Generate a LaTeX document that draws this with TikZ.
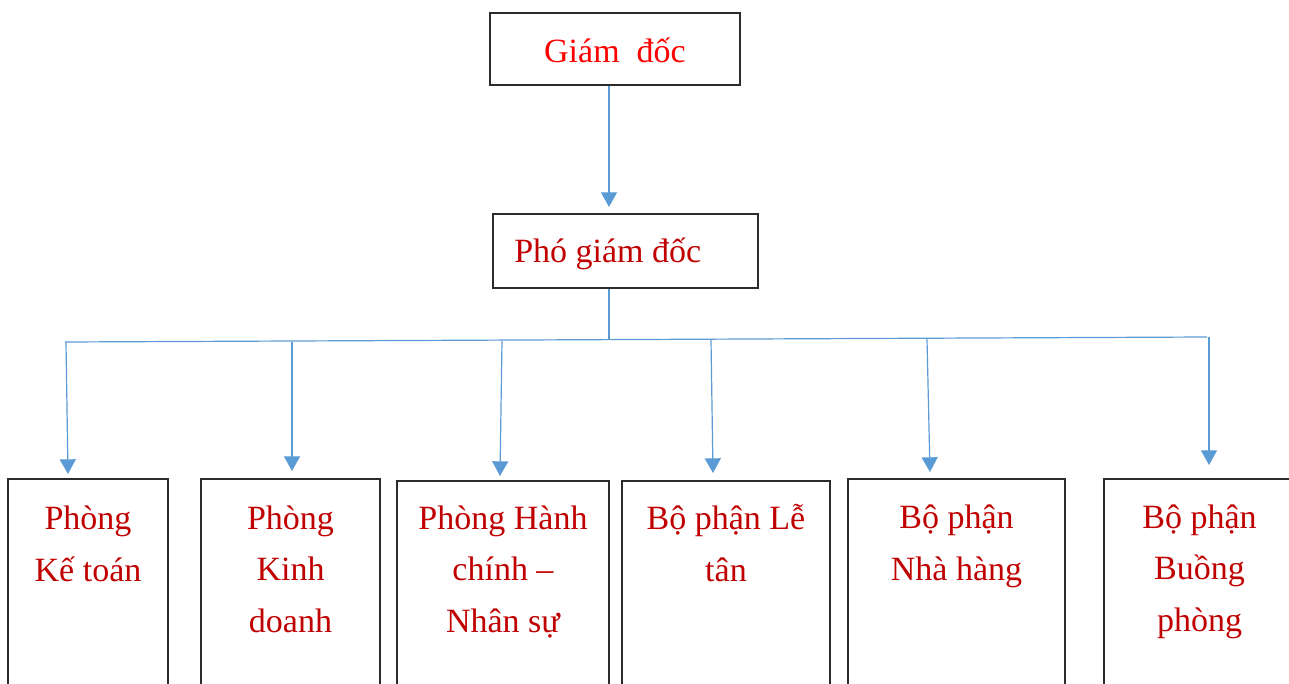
\documentclass[tikz,border=0pt]{standalone}
\usepackage{fontspec}
\setmainfont{Liberation Serif}
\usetikzlibrary{arrows.meta,fit}
\definecolor{linkblue}{HTML}{5B9BD5}
\definecolor{darkred}{HTML}{C00000}
\definecolor{brightred}{HTML}{FF0000}
\definecolor{boxline}{HTML}{2B2B2B}
\begin{document}
\begin{tikzpicture}[x=0.75pt,y=-0.75pt,
  box/.style={draw=boxline,line width=1pt,inner sep=0pt},
  label/.style={font=\fontsize{25.5pt}{38.5pt}\selectfont,text=darkred,align=center,anchor=base,inner sep=0pt},
  link/.style={draw=linkblue,line width=0.9pt},
  arrowlink/.style={link,-{Triangle[length=11pt,width=12pt]}}]
\useasboundingbox (0,0) rectangle (1289,684);

% top of the chart
\node[box,fit={(490,13) (740,85)}] (gd) {};
\node[label,text=brightred] (gdtext) at (615,63) {Giám~~đốc};
\node[box,fit={(493,214) (758,288)}] (pgd) {};
\node[label,anchor=base west] (pgdtext) at (514,263) {Phó giám đốc};

% departments (boxes run past the lower edge)
\node[box,fit={(8,479) (168,720)}] (b1) {};
\node[box,fit={(201,479) (380,720)}] (b2) {};
\node[box,fit={(397,481) (609,720)}] (b3) {};
\node[box,fit={(622,481) (830,720)}] (b4) {};
\node[box,fit={(848,479) (1065,720)}] (b5) {};
\node[box,fit={(1104,479) (1295,720)}] (b6) {};

% the base anchor sits on the last line: 581 for two lines, 632 for three
\node[label] (t1) at (b1.center |- 0,581) {Phòng\\Kế toán};
\node[label] (t2) at (b2.center |- 0,632) {Phòng\\Kinh\\doanh};
\node[label] (t3) at (b3.center |- 0,632) {Phòng Hành\\chính –\\Nhân sự};
\node[label] (t4) at (b4.center |- 0,581) {Bộ phận Lễ\\tân};
\node[label] (t5) at (b5.center |- 0,580) {Bộ phận\\Nhà hàng};
\node[label] (t6) at (b6.center |- 0,631) {Bộ phận\\Buồng\\phòng};

% connectors
\coordinate (down0) at (609,207);
\draw[arrowlink] (gd.south -| down0) -- (down0);
\coordinate (busmid) at (609,339);
\draw[link] (pgd.south -| busmid) -- (busmid);
\coordinate (busL) at (65,342);
\coordinate (busR) at (1207,337);
\draw[link] (busL) -- (busR);

\coordinate (s1) at (66,342);   \coordinate (e1) at (68,474);
\coordinate (s2) at (292,342);  \coordinate (e2) at (292,471);
\coordinate (s3) at (502,341);  \coordinate (e3) at (500,476);
\coordinate (s4) at (711,340);  \coordinate (e4) at (713,473);
\coordinate (s5) at (927,339);  \coordinate (e5) at (930,472);
\coordinate (s6) at (1209,337); \coordinate (e6) at (1209,465);
\foreach \i in {1,...,6}
  \draw[arrowlink] (s\i) -- (e\i);
\end{tikzpicture}
\end{document}
